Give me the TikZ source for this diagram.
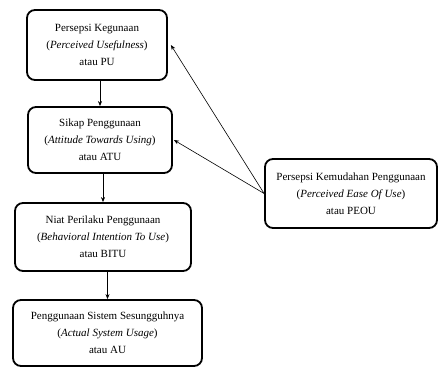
\documentclass[tikz,border=0pt]{standalone}
\usepackage{fontspec}
\setmainfont{Liberation Serif}
\usetikzlibrary{arrows.meta}
\tikzset{
	tambox/.style={draw, line width=1.8pt, rounded corners=8pt, align=center, inner sep=0pt,
		font=\fontsize{11}{17}\selectfont},
	tamarrow/.style={-{Stealth[length=5pt,width=4pt]}, line width=0.6pt}
}

\begin{document}
\begin{tikzpicture}[x=1pt,y=-1pt]
				%%%%% START %%%%%
				\def\lw{0.9pt}
				\useasboundingbox (0,0) rectangle (438,367);
				
				\node[tambox, minimum width=140pt, minimum height=70pt] (pu) at (97,45)
					{Persepsi Kegunaan\\(\textit{Perceived Usefulness})\\atau PU};
				\node[tambox, minimum width=144pt, minimum height=66pt] (atu) at (100,140)
					{Sikap Penggunaan\\(\textit{Attitude Towards Using})\\atau ATU};
				\node[tambox, minimum width=176pt, minimum height=68pt] (bitu) at (103,237)
					{Niat Perilaku Penggunaan\\(\textit{Behavioral Intention To Use})\\atau BITU};
				\node[tambox, minimum width=189pt, minimum height=66pt] (au) at (107.5,333)
					{Penggunaan Sistem Sesungguhnya\\(\textit{Actual System Usage})\\atau AU};
				\node[tambox, minimum width=172pt, minimum height=69pt] (peou) at (351,193.5)
					{Persepsi Kemudahan Penggunaan\\(\textit{Perceived Ease Of Use})\\atau PEOU};
				
				\draw[tamarrow] (atu.north |- pu.south) -- (atu.north);
				\draw[tamarrow] (bitu.north |- atu.south) -- (bitu.north);
				\draw[tamarrow] (au.north |- bitu.south) -- (au.north);
				
				\draw[tamarrow] (peou.west) -- ([xshift=3pt]pu.east);
				\draw[tamarrow] (peou.west) -- ([xshift=1pt]atu.east);
				%%%%% END %%%%%
			\end{tikzpicture}
\end{document}
